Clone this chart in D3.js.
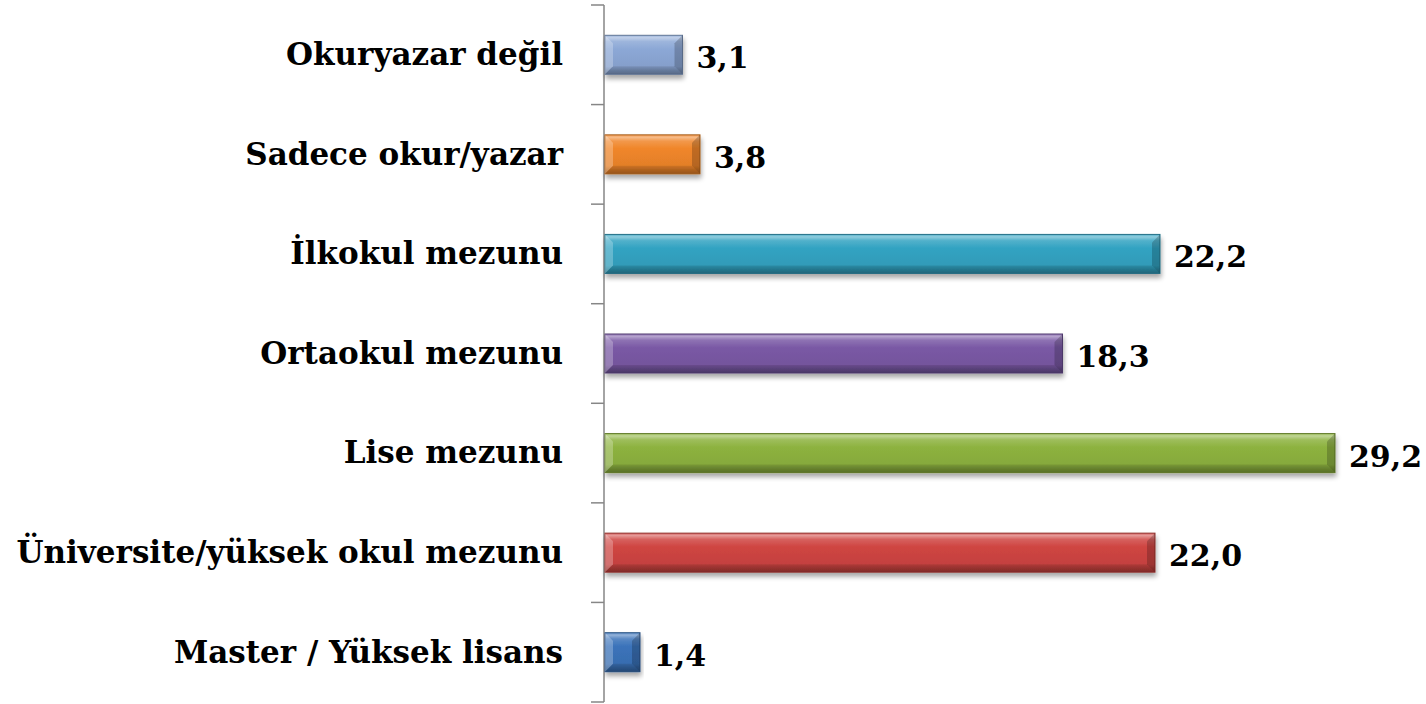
<!DOCTYPE html>
<html>
<head>
<meta charset="utf-8">
<script src="https://cdn.jsdelivr.net/npm/d3@7"></script>
<style>
  body { margin: 0; background: #fff; }
  svg { display: block; }
  .cat { font-family: "DejaVu Serif", serif; font-weight: bold; font-size: 31px; fill: #000; }
  .val { font-family: "DejaVu Serif", serif; font-weight: bold; font-size: 30px; fill: #000; }
</style>
</head>
<body>
<div id="chart"></div>
<script>
// data
var categories = ["Okuryazar değil", "Sadece okur/yazar", "İlkokul mezunu", "Ortaokul mezunu",
                  "Lise mezunu", "Üniversite/yüksek okul mezunu", "Master / Yüksek lisans"];
var values = [3.1, 3.8, 22.2, 18.3, 29.2, 22.0, 1.4];
var barColors = ["#8CA8D6", "#F0862A", "#33A3C2", "#7A59A5", "#8DB23F", "#CF4542", "#3B73BA"];

var svgWidth = 1426, svgHeight = 704;
var margin = { top: 5, right: 91, bottom: 2, left: 604 };
var width = svgWidth - margin.left - margin.right;
var height = svgHeight - margin.top - margin.bottom;

var svg = d3.select("#chart").append("svg").attr("width", svgWidth).attr("height", svgHeight);
var defs = svg.append("defs");

// drop shadow
var f = defs.append("filter").attr("id", "shadow").attr("x", "-5%").attr("y", "-30%").attr("width", "115%").attr("height", "180%");
f.append("feGaussianBlur").attr("in", "SourceAlpha").attr("stdDeviation", 2.5);
f.append("feOffset").attr("dx", 1).attr("dy", 4).attr("result", "ob");
f.append("feComponentTransfer").append("feFuncA").attr("type", "linear").attr("slope", 0.35);
var fm = f.append("feMerge");
fm.append("feMergeNode");
fm.append("feMergeNode").attr("in", "SourceGraphic");

barColors.forEach(function(c, i) {
  var g = defs.append("linearGradient").attr("id", "grad" + i)
      .attr("x1", 0).attr("y1", 0).attr("x2", 0).attr("y2", 1);
  var base = d3.color(c);
  g.append("stop").attr("offset", "0%").attr("stop-color", d3.interpolateRgb(c, "#fff")(0.15));
  g.append("stop").attr("offset", "6%").attr("stop-color", d3.interpolateRgb(c, "#fff")(0.45));
  g.append("stop").attr("offset", "16%").attr("stop-color", d3.interpolateRgb(c, "#fff")(0.15));
  g.append("stop").attr("offset", "35%").attr("stop-color", c);
  g.append("stop").attr("offset", "80%").attr("stop-color", base.darker(0.15));
  g.append("stop").attr("offset", "90%").attr("stop-color", base.darker(0.6));
  g.append("stop").attr("offset", "100%").attr("stop-color", base.darker(1.0));
});

var chartGroup = svg.append("g").attr("transform", `translate(${margin.left}, ${margin.top})`);

var xScale = d3.scaleLinear().domain([0, 29.2]).range([1, 731]);
var yScale = d3.scaleBand().domain(categories).range([0, height]);

// axis: line + ticks at band boundaries
var boundaries = d3.range(categories.length + 1).map(function(i) { return i * yScale.step(); });
chartGroup.append("line").attr("x1", 0).attr("x2", 0).attr("y1", 0).attr("y2", height)
  .attr("stroke", "#868686").attr("stroke-width", 1.5);
chartGroup.selectAll(".tick").data(boundaries).enter().append("line")
  .attr("x1", -13).attr("x2", 0).attr("y1", d => d).attr("y2", d => d)
  .attr("stroke", "#868686").attr("stroke-width", 1.5);

// category labels
var bandCenter = function(c) { return yScale(c) + yScale.bandwidth() / 2; };
chartGroup.selectAll(".cat").data(categories).enter().append("text").attr("class", "cat")
  .attr("x", -41).attr("y", d => bandCenter(d) + 1).attr("dy", "0.3em")
  .attr("text-anchor", "end").text(d => d);

// bars
var bh = 39;
var bars = chartGroup.selectAll(".bar").data(values).enter().append("g").attr("class", "bar")
  .attr("filter", "url(#shadow)");
bars.append("rect")
  .attr("x", xScale(0)).attr("y", (d, i) => bandCenter(categories[i]) - bh / 2)
  .attr("width", d => xScale(d) - xScale(0)).attr("height", bh)
  .attr("fill", (d, i) => `url(#grad${i})`)
  .attr("stroke", (d, i) => d3.color(barColors[i]).darker(1)).attr("stroke-width", 1);
// bevel edges
var bv = 8;
function corners(d, i) {
  var x0 = xScale(0), x1 = xScale(d), y0 = bandCenter(categories[i]) - bh / 2, y1 = y0 + bh;
  var b = Math.min(bv, (x1 - x0) / 2);
  return { x0: x0, x1: x1, y0: y0, y1: y1, b: b };
}
bars.append("path")
  .attr("d", function(d, i) {
    var c = corners(d, i);
    return `M${c.x0},${c.y0}L${c.x0 + c.b},${c.y0 + bv}L${c.x0 + c.b},${c.y1 - bv}L${c.x0},${c.y1}Z`;
  })
  .attr("fill", "#fff").attr("opacity", 0.25);
bars.append("path")
  .attr("d", function(d, i) {
    var c = corners(d, i);
    return `M${c.x1},${c.y0}L${c.x1 - c.b},${c.y0 + bv}L${c.x1 - c.b},${c.y1 - bv}L${c.x1},${c.y1}Z`;
  })
  .attr("fill", "#000").attr("opacity", 0.2);
bars.append("path")
  .attr("d", function(d, i) {
    var c = corners(d, i);
    return `M${c.x0},${c.y1}L${c.x0 + c.b},${c.y1 - bv}L${c.x1 - c.b},${c.y1 - bv}L${c.x1},${c.y1}Z`;
  })
  .attr("fill", "#000").attr("opacity", 0.1);

// value labels
chartGroup.selectAll(".val").data(values).enter().append("text").attr("class", "val")
  .attr("x", d => xScale(d) + 14).attr("y", (d, i) => bandCenter(categories[i]) + 3).attr("dy", "0.35em")
  .text(d => d.toFixed(1).replace(".", ","));
</script>
</body>
</html>
